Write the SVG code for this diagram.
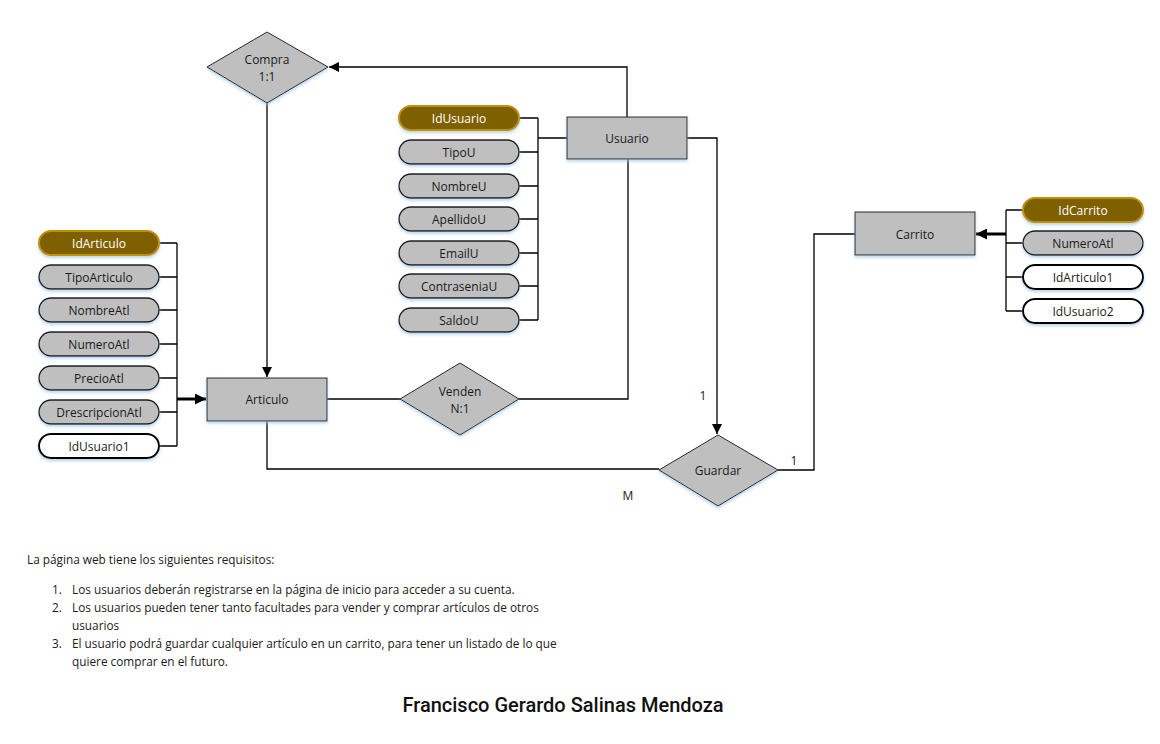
<svg xmlns="http://www.w3.org/2000/svg" width="1160" height="744" viewBox="0 0 1160 744">
<defs>
<filter id="sh" x="-20%" y="-20%" width="140%" height="150%">
<feDropShadow dx="0" dy="2" stdDeviation="1.5" flood-color="#9DC3E6" flood-opacity="0.7"/>
</filter>
<marker id="ah" viewBox="0 0 10 10" refX="10" refY="5" markerWidth="10" markerHeight="10" markerUnits="userSpaceOnUse" orient="auto">
<path d="M0,0 L10,5 L0,10 z" fill="#000"/>
</marker>
<marker id="ahb" viewBox="0 0 10 10" refX="10" refY="5" markerWidth="11" markerHeight="11" markerUnits="userSpaceOnUse" orient="auto">
<path d="M0,0 L10,5 L0,10 z" fill="#000"/>
</marker>
</defs>
<style>
.t{font-family:"Open Sans","Noto Sans",sans-serif;font-size:12px;fill:#1a1a1a;text-anchor:middle;dominant-baseline:central}
.tw{fill:#fff}
.ent{fill:#BFBFBF;stroke:#262626;stroke-width:1;filter:url(#sh)}
.rel{fill:#BFBFBF;stroke:#262626;stroke-width:1;filter:url(#sh)}
.att{fill:#BFBFBF;stroke:#1a1a1a;stroke-width:1.3;filter:url(#sh)}
.key{fill:#7F6000;stroke:#BF9000;stroke-width:2;filter:url(#sh)}
.fk{fill:#fff;stroke:#000;stroke-width:2;filter:url(#sh)}
.c{fill:none;stroke:#000;stroke-width:1.3}
.cb{fill:none;stroke:#000;stroke-width:3}
.lbl{font-family:"Open Sans","Noto Sans",sans-serif;font-size:12px;fill:#1a1a1a}
.body{font-family:"Open Sans","Noto Sans",sans-serif;font-size:11.8px;fill:#1a1a1a}
</style>
<g id="connectors">
<path class="c" d="M627,117 V67 H329" marker-end="url(#ah)"/>
<path class="c" d="M267,103 V377" marker-end="url(#ah)"/>
<path class="c" d="M519,118 H538 M519,152 H538 M519,186 H538 M519,219 H538 M519,253 H538 M519,286 H538 M519,320 H538 M538,118 V320 M538,138 H567"/>
<path class="c" d="M628,159 V399 H519"/>
<path class="c" d="M327,399 H400"/>
<path class="c" d="M159,243 H177 M159,277 H177 M159,310 H177 M159,344 H177 M159,378 H177 M159,412 H177 M159,446 H177 M177,243 V446"/>
<path class="cb" d="M177,399 H206" marker-end="url(#ahb)"/>
<path class="c" d="M267,421 V469 H659"/>
<path class="c" d="M687,138 H717 V434" marker-end="url(#ah)"/>
<path class="c" d="M778,470 H814 V234 H855"/>
<path class="c" d="M1023,210 H1006 M1023,243 H1006 M1023,277 H1006 M1023,311 H1006 M1006,210 V311"/>
<path class="cb" d="M1006,234 H976" marker-end="url(#ahb)"/>
<text class="lbl" x="703" y="400" text-anchor="middle">1</text>
<text class="lbl" x="628" y="500" text-anchor="middle">M</text>
<text class="lbl" x="794" y="465" text-anchor="middle">1</text>
</g>
<g id="compra"><path class="rel" d="M267,32 L328,67 L267,103 L207,67 Z"/><text class="t" x="267" y="59">Compra</text><text class="t" x="267" y="76">1:1</text></g>
<g id="usuario"><rect class="ent" x="567" y="117" width="120" height="42"/><text class="t" x="627" y="138">Usuario</text></g>
<g id="idusuario"><rect class="key" x="399" y="106" width="120" height="24" rx="12"/><text class="t tw" x="459" y="118">IdUsuario</text></g>
<g id="tipou"><rect class="att" x="399" y="140" width="120" height="24" rx="12"/><text class="t" x="459" y="152">TipoU</text></g>
<g id="nombreu"><rect class="att" x="399" y="174" width="120" height="24" rx="12"/><text class="t" x="459" y="186">NombreU</text></g>
<g id="apellidou"><rect class="att" x="399" y="207" width="120" height="24" rx="12"/><text class="t" x="459" y="219">ApellidoU</text></g>
<g id="emailu"><rect class="att" x="399" y="241" width="120" height="24" rx="12"/><text class="t" x="459" y="253">EmailU</text></g>
<g id="contraseniau"><rect class="att" x="399" y="274" width="120" height="24" rx="12"/><text class="t" x="459" y="286">ContraseniaU</text></g>
<g id="saldou"><rect class="att" x="399" y="308" width="120" height="24" rx="12"/><text class="t" x="459" y="320">SaldoU</text></g>
<g id="articulo"><rect class="ent" x="207" y="378" width="120" height="43"/><text class="t" x="267" y="399">Articulo</text></g>
<g id="idarticulo"><rect class="key" x="39" y="231" width="120" height="24" rx="12"/><text class="t tw" x="99" y="243">IdArticulo</text></g>
<g id="tipoarticulo"><rect class="att" x="39" y="265" width="120" height="24" rx="12"/><text class="t" x="99" y="277">TipoArticulo</text></g>
<g id="nombreatl"><rect class="att" x="39" y="298" width="120" height="24" rx="12"/><text class="t" x="99" y="310">NombreAtl</text></g>
<g id="numeroatl"><rect class="att" x="39" y="332" width="120" height="24" rx="12"/><text class="t" x="99" y="344">NumeroAtl</text></g>
<g id="precioatl"><rect class="att" x="39" y="366" width="120" height="24" rx="12"/><text class="t" x="99" y="378">PrecioAtl</text></g>
<g id="descripcionatl"><rect class="att" x="39" y="400" width="120" height="24" rx="12"/><text class="t" x="99" y="412">DrescripcionAtl</text></g>
<g id="idusuario1"><rect class="fk" x="39" y="434" width="120" height="24" rx="12"/><text class="t" x="99" y="446">IdUsuario1</text></g>
<g id="venden"><path class="rel" d="M460,363 L519,399 L460,435 L400,399 Z"/><text class="t" x="460" y="391">Venden</text><text class="t" x="460" y="408">N:1</text></g>
<g id="guardar"><path class="rel" d="M718,435 L778,470 L718,506 L659,470 Z"/><text class="t" x="718" y="470">Guardar</text></g>
<g id="carrito"><rect class="ent" x="855" y="212" width="120" height="43"/><text class="t" x="915" y="234">Carrito</text></g>
<g id="idcarrito"><rect class="key" x="1023" y="198" width="120" height="24" rx="12"/><text class="t tw" x="1083" y="210">IdCarrito</text></g>
<g id="numeroatl2"><rect class="att" x="1023" y="231" width="120" height="24" rx="12"/><text class="t" x="1083" y="243">NumeroAtl</text></g>
<g id="idarticulo1"><rect class="fk" x="1023" y="265" width="120" height="24" rx="12"/><text class="t" x="1083" y="277">IdArticulo1</text></g>
<g id="idusuario2"><rect class="fk" x="1023" y="299" width="120" height="24" rx="12"/><text class="t" x="1083" y="311">IdUsuario2</text></g>
<g id="requisitos">
<text class="body" x="27" y="564">La página web tiene los siguientes requisitos:</text>
<text class="body" x="52" y="594">1.</text><text class="body" x="72" y="594">Los usuarios deberán registrarse en la página de inicio para acceder a su cuenta.</text>
<text class="body" x="52" y="612">2.</text><text class="body" x="72" y="612">Los usuarios pueden tener tanto facultades para vender y comprar artículos de otros</text>
<text class="body" x="72" y="630">usuarios</text>
<text class="body" x="52" y="648">3.</text><text class="body" x="72" y="648">El usuario podrá guardar cualquier artículo en un carrito, para tener un listado de lo que</text>
<text class="body" x="72" y="666">quiere comprar en el futuro.</text>
</g>
<text x="563" y="712" text-anchor="middle" font-family="Roboto,'Noto Sans',sans-serif" font-size="20" font-weight="500" fill="#111">Francisco Gerardo Salinas Mendoza</text>
</svg>
